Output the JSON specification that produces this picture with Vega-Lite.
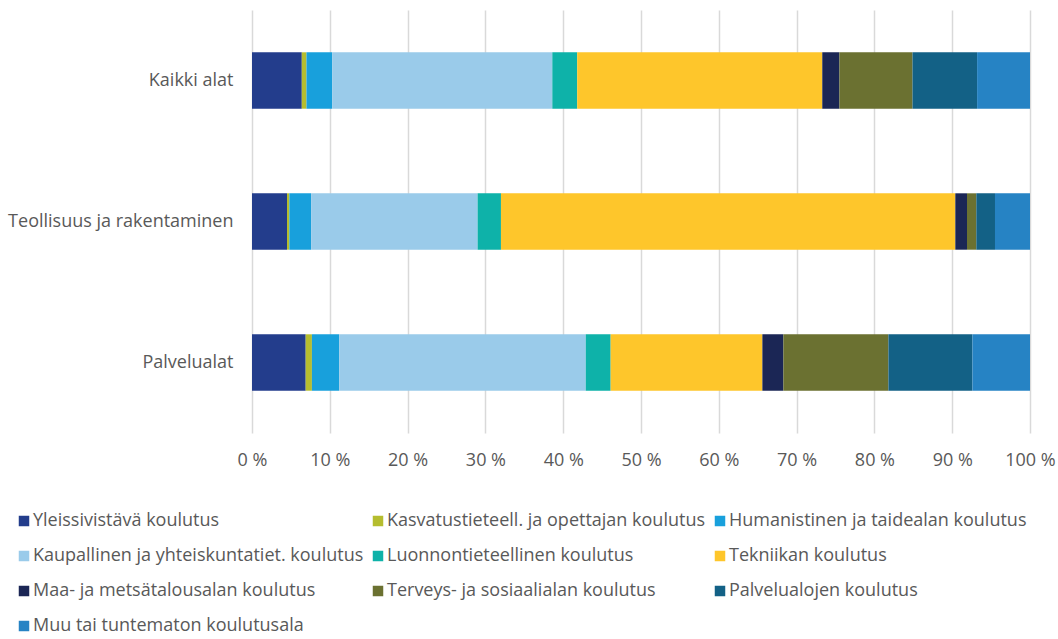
{
  "$schema": "https://vega.github.io/schema/vega-lite/v6.json",
  "autosize": {"type": "none"},
  "padding": {"left": 252, "top": 10, "right": 28, "bottom": 206},
  "width": 778,
  "height": 423,
  "background": "white",
  "config": {
    "font": "Open Sans",
    "view": {"stroke": null}
  },
  "data": {
    "values": [
      {"ala": "Kaikki alat", "koulutus": "Yleissivistävä koulutus", "i": 1, "p": 6.4},
      {"ala": "Kaikki alat", "koulutus": "Kasvatustieteell. ja opettajan koulutus", "i": 2, "p": 0.6},
      {"ala": "Kaikki alat", "koulutus": "Humanistinen ja taidealan koulutus", "i": 3, "p": 3.3},
      {"ala": "Kaikki alat", "koulutus": "Kaupallinen ja yhteiskuntatiet. koulutus", "i": 4, "p": 28.3},
      {"ala": "Kaikki alat", "koulutus": "Luonnontieteellinen koulutus", "i": 5, "p": 3.2},
      {"ala": "Kaikki alat", "koulutus": "Tekniikan koulutus", "i": 6, "p": 31.5},
      {"ala": "Kaikki alat", "koulutus": "Maa- ja metsätalousalan koulutus", "i": 7, "p": 2.2},
      {"ala": "Kaikki alat", "koulutus": "Terveys- ja sosiaalialan koulutus", "i": 8, "p": 9.4},
      {"ala": "Kaikki alat", "koulutus": "Palvelualojen koulutus", "i": 9, "p": 8.3},
      {"ala": "Kaikki alat", "koulutus": "Muu tai tuntematon koulutusala", "i": 10, "p": 6.8},
      {"ala": "Teollisuus ja rakentaminen", "koulutus": "Yleissivistävä koulutus", "i": 1, "p": 4.5},
      {"ala": "Teollisuus ja rakentaminen", "koulutus": "Kasvatustieteell. ja opettajan koulutus", "i": 2, "p": 0.3},
      {"ala": "Teollisuus ja rakentaminen", "koulutus": "Humanistinen ja taidealan koulutus", "i": 3, "p": 2.8},
      {"ala": "Teollisuus ja rakentaminen", "koulutus": "Kaupallinen ja yhteiskuntatiet. koulutus", "i": 4, "p": 21.4},
      {"ala": "Teollisuus ja rakentaminen", "koulutus": "Luonnontieteellinen koulutus", "i": 5, "p": 3.0},
      {"ala": "Teollisuus ja rakentaminen", "koulutus": "Tekniikan koulutus", "i": 6, "p": 58.4},
      {"ala": "Teollisuus ja rakentaminen", "koulutus": "Maa- ja metsätalousalan koulutus", "i": 7, "p": 1.5},
      {"ala": "Teollisuus ja rakentaminen", "koulutus": "Terveys- ja sosiaalialan koulutus", "i": 8, "p": 1.2},
      {"ala": "Teollisuus ja rakentaminen", "koulutus": "Palvelualojen koulutus", "i": 9, "p": 2.4},
      {"ala": "Teollisuus ja rakentaminen", "koulutus": "Muu tai tuntematon koulutusala", "i": 10, "p": 4.5},
      {"ala": "Palvelualat", "koulutus": "Yleissivistävä koulutus", "i": 1, "p": 6.9},
      {"ala": "Palvelualat", "koulutus": "Kasvatustieteell. ja opettajan koulutus", "i": 2, "p": 0.8},
      {"ala": "Palvelualat", "koulutus": "Humanistinen ja taidealan koulutus", "i": 3, "p": 3.5},
      {"ala": "Palvelualat", "koulutus": "Kaupallinen ja yhteiskuntatiet. koulutus", "i": 4, "p": 31.7},
      {"ala": "Palvelualat", "koulutus": "Luonnontieteellinen koulutus", "i": 5, "p": 3.2},
      {"ala": "Palvelualat", "koulutus": "Tekniikan koulutus", "i": 6, "p": 19.5},
      {"ala": "Palvelualat", "koulutus": "Maa- ja metsätalousalan koulutus", "i": 7, "p": 2.7},
      {"ala": "Palvelualat", "koulutus": "Terveys- ja sosiaalialan koulutus", "i": 8, "p": 13.5},
      {"ala": "Palvelualat", "koulutus": "Palvelualojen koulutus", "i": 9, "p": 10.8},
      {"ala": "Palvelualat", "koulutus": "Muu tai tuntematon koulutusala", "i": 10, "p": 7.4}
    ]
  },
  "mark": {"type": "bar"},
  "encoding": {
    "y": {
      "field": "ala",
      "type": "nominal",
      "sort": ["Kaikki alat", "Teollisuus ja rakentaminen", "Palvelualat"],
      "scale": {"paddingInner": 0.6, "paddingOuter": 0.3},
      "axis": {
        "title": null,
        "domain": false,
        "ticks": false,
        "labelPadding": 19,
        "labelFontSize": 18,
        "labelColor": "#595959",
        "labelFont": "Open Sans",
        "labelLimit": 400
      }
    },
    "x": {
      "field": "p",
      "type": "quantitative",
      "stack": "normalize",
      "scale": {"domain": [0, 1]},
      "axis": {
        "title": null,
        "values": [0, 0.1, 0.2, 0.3, 0.4, 0.5, 0.6, 0.7, 0.8, 0.9, 1],
        "labelExpr": "round(datum.value*100) + ' %'",
        "domain": false,
        "ticks": false,
        "grid": true,
        "gridColor": "#D9D9D9",
        "gridWidth": 1.5,
        "labelPadding": 18,
        "labelFontSize": 18,
        "labelColor": "#595959",
        "labelFont": "Open Sans",
        "labelFlush": false
      }
    },
    "order": {"field": "i", "type": "quantitative"},
    "color": {
      "field": "koulutus",
      "type": "nominal",
      "scale": {
        "domain": [
          "Yleissivistävä koulutus",
          "Kasvatustieteell. ja opettajan koulutus",
          "Humanistinen ja taidealan koulutus",
          "Kaupallinen ja yhteiskuntatiet. koulutus",
          "Luonnontieteellinen koulutus",
          "Tekniikan koulutus",
          "Maa- ja metsätalousalan koulutus",
          "Terveys- ja sosiaalialan koulutus",
          "Palvelualojen koulutus",
          "Muu tai tuntematon koulutusala"
        ],
        "range": ["#233D8C", "#B5BD2F", "#18A0DC", "#9ACBEA", "#0EB2A9", "#FEC62B", "#1B2655", "#6B7131", "#136186", "#2683C4"]
      },
      "legend": {
        "title": null,
        "orient": "none",
        "legendX": -237,
        "legendY": 502,
        "direction": "horizontal",
        "columns": 3,
        "symbolType": "square",
        "symbolSize": 110,
        "symbolStrokeWidth": 0,
        "labelFontSize": 18,
        "labelColor": "#595959",
        "labelFont": "Open Sans",
        "labelOffset": 0,
        "labelLimit": 400,
        "rowPadding": 17,
        "columnPadding": 5
      }
    }
  }
}
